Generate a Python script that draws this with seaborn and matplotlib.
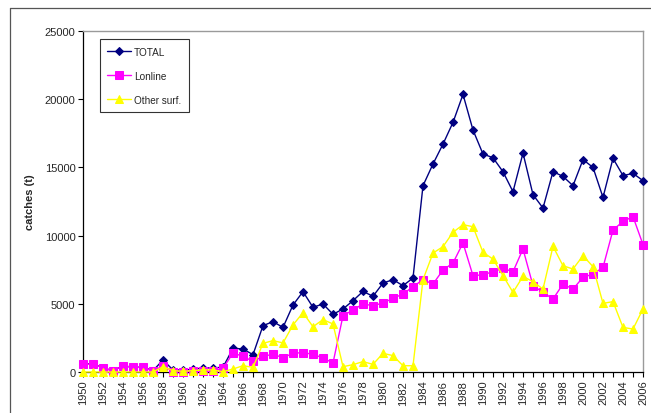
import matplotlib
matplotlib.use("Agg")
import matplotlib.pyplot as plt
from matplotlib.lines import Line2D
import numpy as np
import pandas as pd
import seaborn as sns

years = list(range(1950, 2007))

total = [600, 600, 300, 100, 450, 350, 350, 100, 880, 150,
         150, 200, 300, 300, 350, 1740, 1690, 1270, 3400, 3690,
         3270, 4910, 5890, 4740, 4990, 4230, 4620, 5230, 5910, 5550,
         6520, 6770, 6330, 6890, 13660, 15250, 16710, 18300, 20350, 17740,
         15980, 15710, 14680, 13220, 16050, 13000, 12020, 14690, 14340, 13660,
         15570, 15000, 12800, 15660, 14400, 14560, 14030]

lonline = [550, 590, 290, 80, 460, 340, 340, 60, 460, 30,
           30, 50, 100, 50, 270, 1390, 1150, 780, 1150, 1300,
           1050, 1370, 1420, 1300, 1030, 660, 4130, 4540, 4990, 4860,
           5060, 5400, 5720, 6250, 6770, 6450, 7480, 7990, 9460, 7060,
           7130, 7350, 7600, 7350, 9020, 6330, 5840, 5350, 6450, 6080,
           6940, 7180, 7670, 10410, 11040, 11390, 9340]

other_surf = [0, 0, 0, 0, 0, 0, 0, 0, 390, 100,
              50, 100, 150, 150, 20, 220, 460, 340, 2100, 2300,
              2130, 3450, 4350, 3320, 3840, 3520, 390, 540, 760, 560,
              1370, 1200, 460, 460, 6770, 8720, 9190, 10240, 10800, 10650,
              8770, 8280, 7060, 5840, 7010, 6620, 6080, 9210, 7790, 7550,
              8530, 7720, 5030, 5160, 3270, 3150, 4620]

series_names = ["TOTAL", "Lonline", "Other surf."]
y_ticks = [0, 5000, 10000, 15000, 20000, 25000]

sns.set_style("white")
plt.rcParams["font.family"] = ["Liberation Sans", "DejaVu Sans"]

W, H = 651, 414
fig = plt.figure(figsize=(W / 100, H / 100), dpi=100)
fig.patch.set_facecolor("white")
ax = fig.add_axes([83 / W, 1 - 373 / H, (643 - 83) / W, (373 - 32) / H])

df = pd.DataFrame({
    "year": years * 3,
    "catch": total + lonline + other_surf,
    "series": [series_names[0]] * len(years)
    + [series_names[1]] * len(years)
    + [series_names[2]] * len(years),
})

styles = {
    "TOTAL": dict(color="#000080", marker="D", markersize=4.2, lw=1.0),
    "Lonline": dict(color="#FF00FF", marker="s", markersize=5.5, lw=1.0),
    "Other surf.": dict(color="#FFFF00", marker="^", markersize=5.5, lw=1.0),
}

for name in series_names:
    st = styles[name]
    sub = df[df["series"] == name]
    sns.lineplot(data=sub, x="year", y="catch", ax=ax, color=st["color"],
                 marker=st["marker"], markersize=st["markersize"],
                 markeredgecolor=st["color"], markerfacecolor=st["color"],
                 linewidth=st["lw"], label=name, clip_on=False, zorder=3)

ax.set_xlim(1950, 2006)
ax.set_ylim(0, 25000)
ax.set_yticks(y_ticks)
ax.set_yticklabels([str(v) for v in y_ticks], fontsize=8)
ax.set_xticks(years)
ax.set_xticklabels([str(y) if y % 2 == 0 else "" for y in years],
                   rotation=90, fontsize=8)
ax.tick_params(axis="both", direction="out", length=3.5, width=0.8,
               color="black", pad=2)
ax.tick_params(axis="x", bottom=True)
ax.tick_params(axis="y", left=True)

ax.set_xlabel("")
ax.set_ylabel("catches (t)", fontsize=8, fontweight="bold")
ax.yaxis.set_label_coords(-0.086, 0.5)

for side in ["left", "bottom"]:
    ax.spines[side].set_color("black")
    ax.spines[side].set_linewidth(0.9)
for side in ["top", "right"]:
    ax.spines[side].set_color("#9a9a9a")
    ax.spines[side].set_linewidth(1.0)

leg = ax.legend(loc="upper left", bbox_to_anchor=(0.03, 0.976),
                borderaxespad=0, fontsize=7.2, frameon=True, fancybox=False,
                labelspacing=1.4, handlelength=2.34, handletextpad=0.33,
                borderpad=0.76, edgecolor="black")
leg.get_frame().set_linewidth(0.8)

# chart-area frame (left and top edges)
fig.add_artist(Line2D([10 / W, 10 / W], [0, 1 - 9 / H], color="#555555",
                      lw=0.9, transform=fig.transFigure))
fig.add_artist(Line2D([10 / W, 1], [1 - 9 / H, 1 - 9 / H], color="#555555",
                      lw=0.9, transform=fig.transFigure))

fig.savefig("out.png", dpi=100)
